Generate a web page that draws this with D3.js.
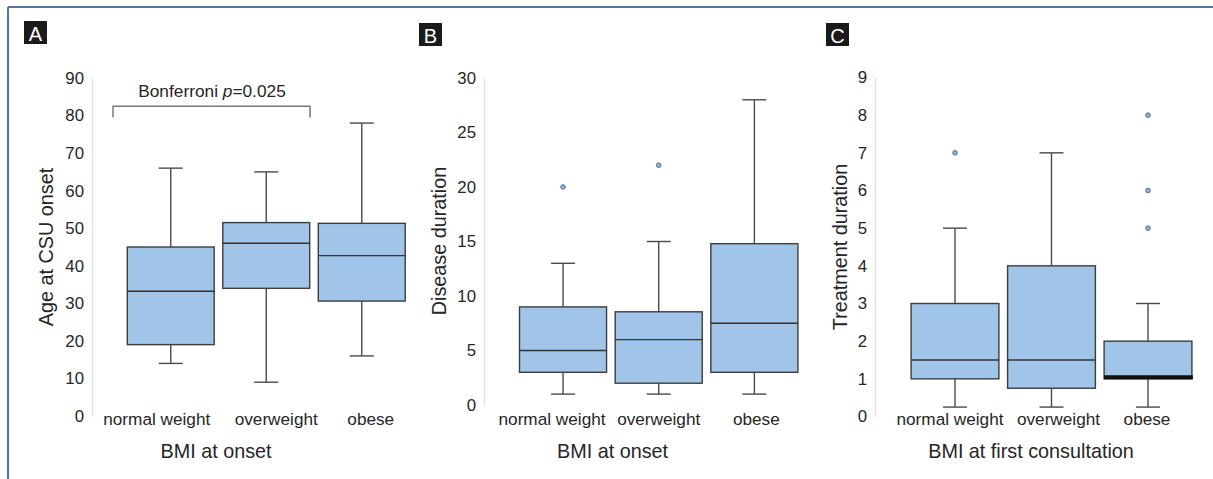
<!DOCTYPE html>
<html>
<head>
<meta charset="utf-8">
<script src="https://cdn.jsdelivr.net/npm/d3@7"></script>
<style>
  body { margin: 0; background: #fff; }
  svg { display: block; font-family: "Liberation Sans", Arial, sans-serif; }
</style>
</head>
<body>
<div id="chart"></div>
<script>
// Data
var categories = ["normal weight", "overweight", "obese"];

// Panel A: age at CSU onset by BMI at onset
var ageLow    = [14, 9, 16];
var ageQ1     = [19, 34, 30.6];
var ageMedian = [33.2, 46, 42.7];
var ageQ3     = [45, 51.5, 51.3];
var ageHigh   = [66, 65, 78];
var ageOutliers = [[], [], []];
var ageTicks = [0, 10, 20, 30, 40, 50, 60, 70, 80, 90];

// Panel B: disease duration by BMI at onset
var disLow    = [1, 1, 1];
var disQ1     = [3, 2, 3];
var disMedian = [5, 6, 7.5];
var disQ3     = [9, 8.55, 14.8];
var disHigh   = [13, 15, 28];
var disOutliers = [[20], [22], []];
var disTicks = [0, 5, 10, 15, 20, 25, 30];

// Panel C: treatment duration by BMI at first consultation
var trtLow    = [0.25, 0.25, 0.25];
var trtQ1     = [1, 0.75, 1];
var trtMedian = [1.5, 1.5, 1];
var trtQ3     = [3, 4, 2];
var trtHigh   = [5, 7, 3];
var trtOutliers = [[7], [], [5, 6, 8]];
var trtTicks = [0, 1, 2, 3, 4, 5, 6, 7, 8, 9];

var width = 1213, height = 479;

var svg = d3.select("#chart").append("svg")
  .attr("width", width)
  .attr("height", height);

// frame (top + left edge only)
svg.append("line").attr("x1", 8).attr("x2", width).attr("y1", 7).attr("y2", 7)
  .attr("stroke", "#4a78a8").attr("stroke-width", 2);
svg.append("line").attr("x1", 8).attr("x2", 8).attr("y1", 7).attr("y2", height)
  .attr("stroke", "#4a78a8").attr("stroke-width", 2);

function buildStats(low, q1, med, q3, high, outs) {
  return categories.map(function(c, i) {
    return { cat: c, low: low[i], q1: q1[i], med: med[i], q3: q3[i], high: high[i], outliers: outs[i] };
  });
}

var panels = [
  { letter: "A", letterBox: [24, 21], axisX: 92, yRange: [416, 78], domain: [0, 90], ticks: ageTicks,
    xRange: [123, 409.5], labelDx: [-14, 10, 9],
    yTitle: "Age at CSU onset", yTitlePos: [53, 247],
    xTitle: "BMI at onset", xTitleX: 216,
    stats: buildStats(ageLow, ageQ1, ageMedian, ageQ3, ageHigh, ageOutliers) },
  { letter: "B", letterBox: [419, 23], axisX: 484, yRange: [405, 78], domain: [0, 30], ticks: disTicks,
    xRange: [515.2, 802.2], labelDx: [-11, 0, 2],
    yTitle: "Disease duration", yTitlePos: [446, 241],
    xTitle: "BMI at onset", xTitleX: 612.5,
    stats: buildStats(disLow, disQ1, disMedian, disQ3, disHigh, disOutliers) },
  { letter: "C", letterBox: [826, 23], axisX: 875, yRange: [416.5, 77.5], domain: [0, 9], ticks: trtTicks,
    xRange: [906.75, 1196.25], labelDx: [-5, 7, -1],
    yTitle: "Treatment duration", yTitlePos: [847, 247],
    xTitle: "BMI at first consultation", xTitleX: 1031,
    stats: buildStats(trtLow, trtQ1, trtMedian, trtQ3, trtHigh, trtOutliers) }
];

panels.forEach(function(p) {
  var g = svg.append("g");

  var y = d3.scaleLinear().domain(p.domain).range(p.yRange);
  var x = d3.scaleBand().domain(categories).range(p.xRange).padding(0);
  var boxW = x.bandwidth() * 0.91;
  var capW = 24;

  // panel letter
  g.append("rect").attr("x", p.letterBox[0]).attr("y", p.letterBox[1])
    .attr("width", 23).attr("height", 23).attr("fill", "#1a1a1a");
  g.append("text").attr("x", p.letterBox[0] + 11.5).attr("y", p.letterBox[1] + 19.5)
    .attr("text-anchor", "middle").attr("fill", "#fff").attr("font-size", 20)
    .text(p.letter);

  // y axis
  var yAxis = d3.axisLeft(y).tickValues(p.ticks).tickSize(0).tickPadding(8);
  var ax = g.append("g").attr("transform", "translate(" + p.axisX + ",0)").call(yAxis);
  ax.select(".domain").attr("stroke", "#e2e2e2").attr("stroke-width", 1.5);
  ax.selectAll("text").attr("font-size", 16.8).attr("fill", "#262626")
    .attr("font-family", "'Liberation Sans', Arial, sans-serif");

  // category labels
  g.selectAll("text.cat").data(categories).enter().append("text")
    .attr("class", "cat")
    .attr("x", function(d, i) { return x(d) + x.bandwidth() / 2 + p.labelDx[i]; })
    .attr("y", 425)
    .attr("text-anchor", "middle")
    .attr("font-size", 17.2)
    .attr("fill", "#262626")
    .text(function(d) { return d; });

  // axis titles
  g.append("text").attr("x", p.xTitleX).attr("y", 458)
    .attr("text-anchor", "middle").attr("font-size", 19.8).attr("fill", "#262626")
    .text(p.xTitle);
  g.append("text")
    .attr("transform", "translate(" + p.yTitlePos[0] + "," + p.yTitlePos[1] + ") rotate(-90)")
    .attr("text-anchor", "middle").attr("font-size", 19.8).attr("fill", "#262626")
    .text(p.yTitle);

  var boxes = g.selectAll("g.box").data(p.stats).enter().append("g").attr("class", "box");

  function cx(d) { return x(d.cat) + x.bandwidth() / 2; }

  // whiskers
  boxes.append("line")
    .attr("x1", cx).attr("x2", cx)
    .attr("y1", function(d) { return y(d.high); })
    .attr("y2", function(d) { return y(d.q3); })
    .attr("stroke", "#4a4a4a").attr("stroke-width", 1.4);
  boxes.append("line")
    .attr("x1", cx).attr("x2", cx)
    .attr("y1", function(d) { return y(d.q1); })
    .attr("y2", function(d) { return y(d.low); })
    .attr("stroke", "#4a4a4a").attr("stroke-width", 1.4);
  boxes.append("line")
    .attr("x1", function(d) { return cx(d) - capW / 2; })
    .attr("x2", function(d) { return cx(d) + capW / 2; })
    .attr("y1", function(d) { return y(d.high); })
    .attr("y2", function(d) { return y(d.high); })
    .attr("stroke", "#4a4a4a").attr("stroke-width", 1.4);
  boxes.append("line")
    .attr("x1", function(d) { return cx(d) - capW / 2; })
    .attr("x2", function(d) { return cx(d) + capW / 2; })
    .attr("y1", function(d) { return y(d.low); })
    .attr("y2", function(d) { return y(d.low); })
    .attr("stroke", "#4a4a4a").attr("stroke-width", 1.4);

  // box
  boxes.append("rect")
    .attr("x", function(d) { return cx(d) - boxW / 2; })
    .attr("width", boxW)
    .attr("y", function(d) { return y(d.q3); })
    .attr("height", function(d) { return y(d.q1) - y(d.q3); })
    .attr("fill", "#a1c4e9")
    .attr("stroke", "#3d3d3d").attr("stroke-width", 1.4);

  // median (thick black when it sits on Q1)
  boxes.append("line")
    .attr("x1", function(d) { return cx(d) - boxW / 2; })
    .attr("x2", function(d) { return cx(d) + boxW / 2 + (d.med === d.q1 ? 1 : 0); })
    .attr("y1", function(d) { return y(d.med) - (d.med === d.q1 ? 1.5 : 0); })
    .attr("y2", function(d) { return y(d.med) - (d.med === d.q1 ? 1.5 : 0); })
    .attr("stroke", function(d) { return d.med === d.q1 ? "#111" : "#333"; })
    .attr("stroke-width", function(d) { return d.med === d.q1 ? 4 : 1.4; });

  // outliers
  boxes.selectAll("circle")
    .data(function(d) { return d.outliers.map(function(v) { return { cat: d.cat, v: v }; }); })
    .enter().append("circle")
    .attr("cx", cx)
    .attr("cy", function(d) { return y(d.v); })
    .attr("r", 2.3)
    .attr("fill", "#8fb1dc")
    .attr("stroke", "#50709a").attr("stroke-width", 1);

  p.y = y; p.x = x;
});

// Bonferroni bracket on panel A
var pA = panels[0];
var bx1 = pA.x("normal weight") - 10, bx2 = pA.x("overweight") + pA.x.bandwidth() - 4;
var by = pA.y(82.5), byLeg = pA.y(79.5);
svg.append("path")
  .attr("d", "M" + bx1 + "," + byLeg + "V" + by + "H" + bx2 + "V" + byLeg)
  .attr("fill", "none").attr("stroke", "#7a7a7a").attr("stroke-width", 1.5);
var bt = svg.append("text").attr("x", (bx1 + bx2) / 2 + 0.5).attr("y", 97)
  .attr("text-anchor", "middle").attr("font-size", 17.3).attr("fill", "#262626");
bt.append("tspan").text("Bonferroni ");
bt.append("tspan").attr("font-style", "italic").text("p");
bt.append("tspan").text("=0.025");
</script>
</body>
</html>
